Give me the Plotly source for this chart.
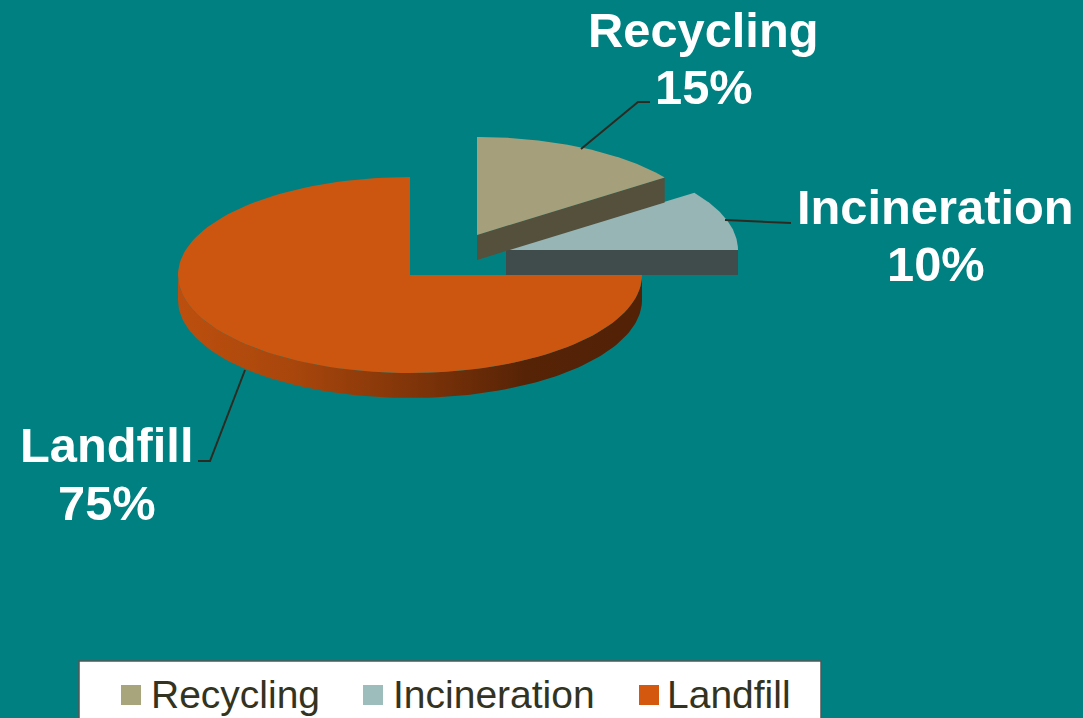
"""Waste disposal shares drawn as a tilted, exploded pie."""

import numpy as np
import plotly.graph_objects as go

labels = ["Recycling", "Incineration", "Landfill"]
shares = [15, 10, 75]

top_colors = ["#A5A07B", "#96B5B4", "#CC5610"]
side_colors = ["#54503C", "#3F4C4B", "#522106"]
legend_colors = ["#A8A47C", "#9CBDBC", "#D4590F"]

# pie geometry, in page pixels (the axes below run 1:1 with the page)
centers = [(477, 235), (506, 250), (410, 275)]
RX, RY = 232, 98
DEPTH = 25

BG = "#008080"
FONT = "Liberation Sans"


def rim(cx, cy, start, end):
    """Points on the ellipse between two angles, clockwise from 12 o'clock."""
    t = np.radians(np.linspace(start, end, 121))
    return cx + RX * np.sin(t), cy - RY * np.cos(t)


def polygon(fig, xs, ys, **kwargs):
    fig.add_trace(go.Scatter(x=xs, y=ys, mode="lines", fill="toself", line=dict(width=0),
                             hoverinfo="skip", showlegend=False, **kwargs))


fig = go.Figure()

ends = np.cumsum(shares) * 3.6
starts = ends - np.array(shares) * 3.6

# landfill goes first, it sits behind the two pulled-out slices
cx, cy = centers[2]
x, y = rim(cx, cy, 90, 270)
polygon(fig, np.r_[x, x[::-1]], np.r_[y, y[::-1] + DEPTH],
        fillgradient=dict(type="horizontal", colorscale=[[0, "#BC4F0E"], [0.25, "#A8460C"], [0.5, "#813509"],
                                                         [0.75, "#562306"], [1, side_colors[2]]]),
        fillcolor=side_colors[2])
x, y = rim(cx, cy, starts[2], ends[2])
polygon(fig, np.r_[cx, x, cx], np.r_[cy, y, cy], fillcolor=top_colors[2])

# incineration then recycling: top face plus the visible cut face
for i in (1, 0):
    cx, cy = centers[i]
    x, y = rim(cx, cy, starts[i], ends[i])
    polygon(fig, [cx, x[-1], x[-1], cx, cx], [cy, y[-1], y[-1] + DEPTH, cy + DEPTH, cy], fillcolor=side_colors[i])
    polygon(fig, np.r_[cx, x, cx], np.r_[cy, y, cy], fillcolor=top_colors[i])

# leader lines
leaders = [([581, 638, 650], [149, 102, 102]), ([725, 782, 791], [220, 223, 223]), ([245, 210, 198], [370, 461, 461])]
for lx, ly in leaders:
    fig.add_trace(go.Scatter(x=lx, y=ly, mode="lines", line=dict(color="#2B2B22", width=2),
                             hoverinfo="skip", showlegend=False))

# slice labels, name line and share line
label_pos = [(703, 704, 30, 87), (935, 936, 207, 264), (106, 107, 445, 503)]
for name, share, (x1, x2, y1, y2) in zip(labels, shares, label_pos):
    for text, lx, ly in ((name, x1, y1), (f"{share}%", x2, y2)):
        fig.add_annotation(x=lx, y=ly, text=f"<b>{text}</b>", showarrow=False, xanchor="center", yanchor="middle",
                           font=dict(family=FONT, size=48.8, color="white"))

# legend box, run off the bottom of the page like the slide it comes from
fig.add_shape(type="rect", x0=79, x1=821, y0=661, y1=730, fillcolor="white", line=dict(color="#555555", width=1.5),
              layer="below")
swatch_x = [131, 373, 649]
text_x = [149, 391, 665]
fig.add_trace(go.Scatter(x=swatch_x, y=[695, 695, 695], mode="markers", hoverinfo="skip", showlegend=False,
                         marker=dict(symbol="square", size=20, color=legend_colors)))
for name, lx in zip(labels, text_x):
    fig.add_annotation(x=lx, y=694, text=name, showarrow=False, xanchor="left", yanchor="middle",
                       font=dict(family=FONT, size=39, color="#333322"))

fig.update_layout(
    paper_bgcolor=BG,
    plot_bgcolor=BG,
    width=1083,
    height=718,
    margin=dict(l=0, r=0, t=0, b=0),
    showlegend=False,
    xaxis=dict(range=[0, 1083], visible=False, fixedrange=True),
    yaxis=dict(range=[718, 0], visible=False, fixedrange=True),
)

fig.write_html("out.html", post_script="document.body.style.margin='0';", config=dict(displayModeBar=False))
